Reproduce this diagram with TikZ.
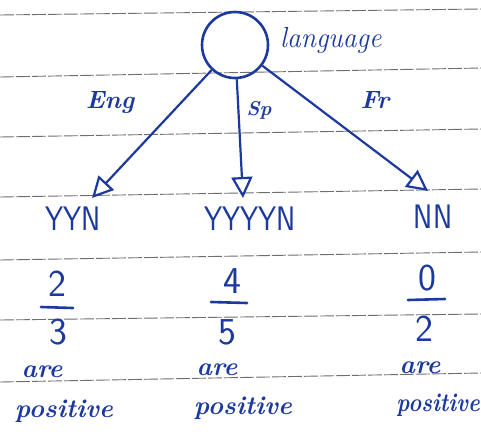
\documentclass[tikz,border=0pt]{standalone}
\usepackage{fontspec}
\usetikzlibrary{arrows.meta}
\definecolor{ink}{RGB}{28,58,158}
\definecolor{rule}{RGB}{110,110,110}
\tikzset{
  ruling/.style={rule, line width=0.9pt, dash pattern=on 14pt off 2pt},
  branch/.style={ink, line width=2.2pt, -{Triangle[open, length=21pt, width=21pt, line width=2.2pt]}},
  leaf/.style={ink, font=\sffamily\fontsize{34}{36}\selectfont, xscale=0.85, inner sep=0pt},
  digit/.style={ink, font=\sffamily\fontsize{38}{40}\selectfont, inner sep=0pt},
  edgelbl/.style={ink, font=\itshape\bfseries\fontsize{25}{27}\selectfont, inner sep=0pt},
  note/.style={ink, font=\itshape\bfseries\fontsize{26}{28}\selectfont, inner sep=0pt},
  fracbar/.style={ink, line width=2.6pt, line cap=round}
}
\begin{document}
\begin{tikzpicture}[x=1pt, y=-1pt]
\useasboundingbox[fill=white] (0,0) rectangle (481,434);

% ruled notebook paper
\foreach \yl/\yr in {15/9, 77/68, 137/129, 197/189, 260/252, 320/314, 382/373}
  \draw[ruling] (0,\yl) -- (481,\yr);

% root of the tree
\node[circle, draw=ink, line width=2.6pt, minimum size=66pt, inner sep=0pt] (root) at (235,45) {};
\node[ink, font=\itshape\fontsize{29}{31}\selectfont, anchor=west, inner sep=0pt, xscale=0.95] (lang) at (280,40) {language};

% arrow tips above each leaf
\coordinate (tipE) at (92,198);
\coordinate (tipS) at (243,198);
\coordinate (tipF) at (428,191);

\draw[branch] (root) -- (tipE);
\draw[branch] (root) -- (tipS);
\draw[branch] (root) -- (tipF);

\node[edgelbl] (eng) at (110,103) {Eng};
\node[edgelbl, font=\itshape\bfseries\fontsize{20}{22}\selectfont] (sp) at (259,110) {Sp};
\node[edgelbl] (fr) at (375,100) {Fr};

% leaves
\node[leaf] (yyn) at (73,219) {YYN};
\node[leaf] (yyyyn) at (250,219) {YYYYN};
\node[leaf] (nn) at (433,217) {NN};

% fractions of positives
\node[digit] (n1) at (57,284) {2};
\draw[fracbar] (41,307) -- (73,308);
\node[digit] (d1) at (58,332) {3};

\node[digit] (n2) at (232,281) {4};
\draw[fracbar] (211,302) -- (247,303);
\node[digit] (d2) at (227,332) {5};

\node[digit] (n3) at (427,278) {0};
\draw[fracbar] (408,300) -- (445,299);
\node[digit] (d3) at (424,329) {2};

% captions
\node[note] (are1) at (42,372) {are};
\node[note] (pos1) at (64,411) {positive};
\node[note] (are2) at (217,370) {are};
\node[note] (pos2) at (243,408) {positive};
\node[note] (are3) at (420,368) {are};
\node[note, anchor=east, xscale=0.85] (pos3) at (480,405) {positive};
\end{tikzpicture}
\end{document}
